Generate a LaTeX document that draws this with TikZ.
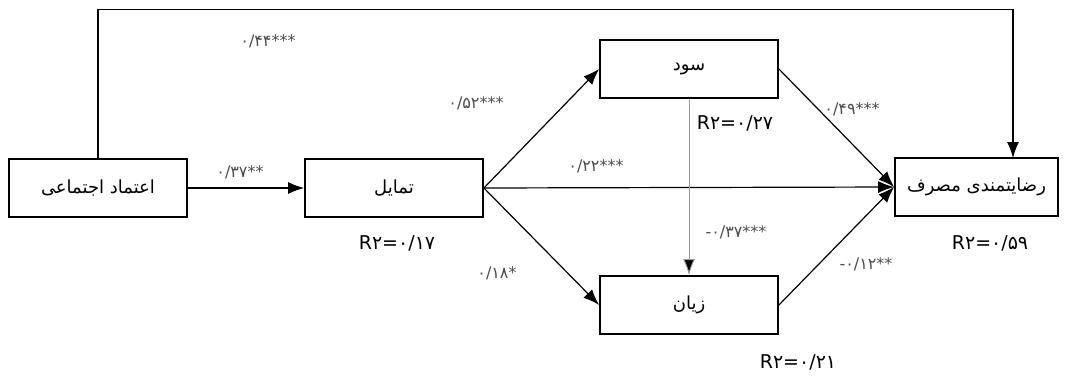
\documentclass[tikz,border=0pt]{standalone}
\usepackage{fontspec}
\setmainfont{DejaVu Sans}
\newfontfamily\arabicfont[Script=Arabic]{DejaVu Sans}
\TeXXeTstate=1
\usetikzlibrary{arrows.meta}
\tikzset{
  box/.style={draw, line width=1.8pt, minimum width=178pt, minimum height=58pt, inner sep=0pt, font=\arabicfont\fontsize{18}{21}\selectfont},
  arr/.style={draw, line width=1.2pt, -{Latex[length=16pt,width=12pt]}},
  garr/.style={draw=gray!80, line width=0.9pt, -{Latex[length=16pt,width=12pt,fill=black]}},
  coef/.style={font=\fontsize{16}{18}\selectfont, text=black!70},
  rsq/.style={font=\fontsize{19}{22}\selectfont}
}
\begin{document}
\begin{tikzpicture}[x=1pt,y=-1pt]
\useasboundingbox (0,0) rectangle (1067,378);
\node[box] (A) at (98,188) {\beginR اعتماد اجتماعی\endR};
\node[box] (B) at (394,188) {\beginR تمایل\endR};
\node[box] (C) at (689,69) {\beginR سود\endR};
\node[box] (D) at (689,305) {\beginR زیان\endR};
\node[box, minimum width=163pt] (E) at (976.5,187) {\beginR رضایتمندی مصرف\endR};
\coordinate (Etop) at (1013,158);
\draw[arr] (A.north) -- ++(0,-149) -| (Etop);
\draw[arr] (A.east) -- (B.west);
\draw[arr] (B.east) -- (C.west);
\draw[arr] (B.east) -- (D.west);
\draw[arr] (B.east) -- (E.west);
\draw[arr] (C.east) -- (E.west);
\draw[arr] (D.east) -- (E.west);
\draw[garr] (C.south) -- (D.north);
\node[coef] (l1) at (268,41) {۰/۴۴***};
\node[coef] (l2) at (240,172) {۰/۳۷**};
\node[coef] (l3) at (476,103) {۰/۵۲***};
\node[coef] (l4) at (596,166) {۰/۲۲***};
\node[coef] (l5) at (852,109) {۰/۴۹***};
\node[coef] (l6) at (736,232) {-۰/۳۷***};
\node[coef] (l7) at (497,273) {۰/۱۸*};
\node[coef] (l8) at (866,264) {-۰/۱۲**};
\node[rsq] (r1) at (735,123) {R۲=۰/۲۷};
\node[rsq] (r2) at (397,243) {R۲=۰/۱۷};
\node[rsq] (r3) at (990,243) {R۲=۰/۵۹};
\node[rsq] (r4) at (798,362) {R۲=۰/۲۱};
\end{tikzpicture}
\end{document}
